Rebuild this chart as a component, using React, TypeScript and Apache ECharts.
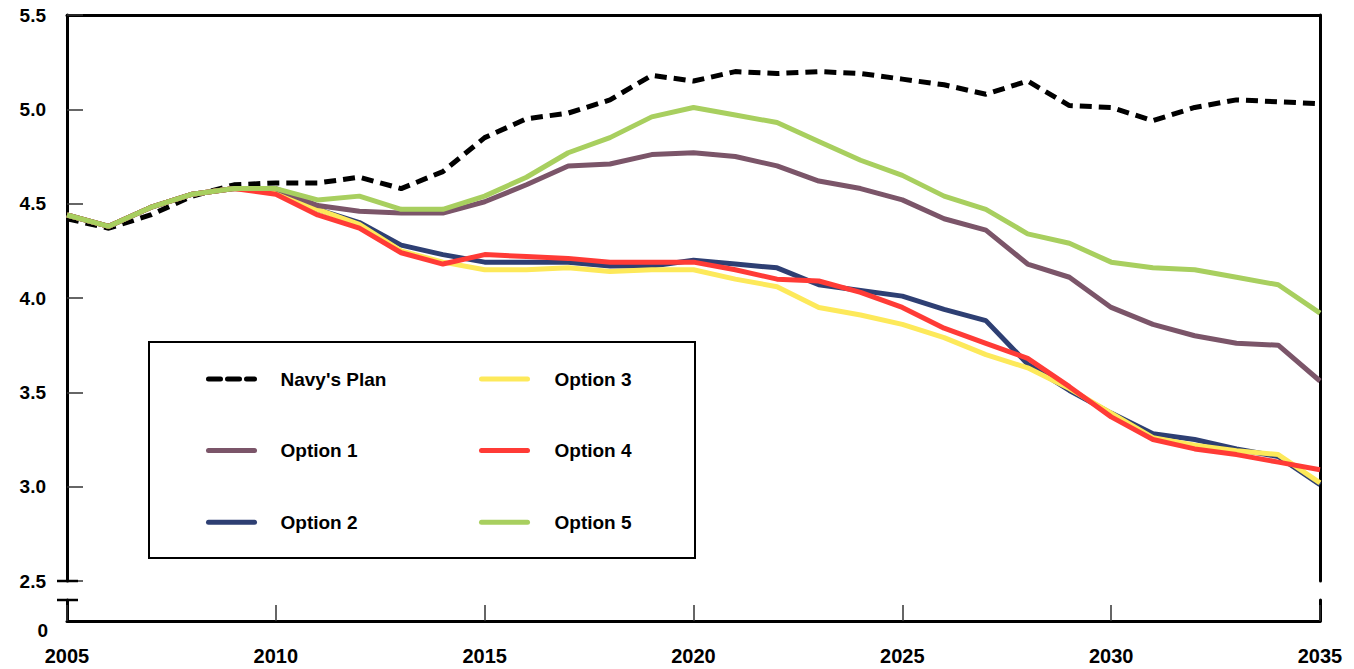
import React, { useEffect, useRef } from "react";
import * as echarts from "echarts";

const years = [2005,2006,2007,2008,2009,2010,2011,2012,2013,2014,2015,2016,2017,2018,2019,2020,2021,2022,2023,2024,2025,2026,2027,2028,2029,2030,2031,2032,2033,2034,2035];

const navyPlan = [4.42,4.37,4.44,4.54,4.60,4.61,4.61,4.64,4.58,4.67,4.85,4.95,4.98,5.05,5.18,5.15,5.20,5.19,5.20,5.19,5.16,5.13,5.08,5.15,5.02,5.01,4.94,5.01,5.05,5.04,5.03];
const option1 = [4.44,4.38,4.48,4.55,4.58,4.58,4.49,4.46,4.45,4.45,4.51,4.60,4.70,4.71,4.76,4.77,4.75,4.70,4.62,4.58,4.52,4.42,4.36,4.18,4.11,3.95,3.86,3.80,3.76,3.75,3.56];
const option2 = [4.44,4.38,4.48,4.55,4.58,4.57,4.47,4.40,4.28,4.23,4.19,4.19,4.19,4.17,4.17,4.20,4.18,4.16,4.07,4.04,4.01,3.94,3.88,3.65,3.51,3.39,3.28,3.25,3.20,3.16,3.01];
const option3 = [4.44,4.38,4.48,4.55,4.58,4.56,4.47,4.39,4.25,4.19,4.15,4.15,4.16,4.14,4.15,4.15,4.10,4.06,3.95,3.91,3.86,3.79,3.70,3.63,3.52,3.39,3.26,3.22,3.19,3.17,3.02];
const option4 = [4.44,4.38,4.48,4.55,4.58,4.55,4.44,4.37,4.24,4.18,4.23,4.22,4.21,4.19,4.19,4.19,4.15,4.10,4.09,4.03,3.95,3.84,3.76,3.68,3.53,3.37,3.25,3.20,3.17,3.13,3.09];
const option5 = [4.44,4.38,4.48,4.55,4.58,4.58,4.52,4.54,4.47,4.47,4.54,4.64,4.77,4.85,4.96,5.01,4.97,4.93,4.83,4.73,4.65,4.54,4.47,4.34,4.29,4.19,4.16,4.15,4.11,4.07,3.92];

const seriesNames = ["Navy's Plan", "Option 1", "Option 2", "Option 3", "Option 4", "Option 5"];
const legendCol1 = ["Navy's Plan", "Option 1", "Option 2"];
const legendCol2 = ["Option 3", "Option 4", "Option 5"];

const FONT = "'Liberation Sans', Arial, sans-serif";

const pairs = (vals: number[]) => years.map((y, i) => [y, vals[i]]);

export default function App() {
  const ref = useRef<HTMLDivElement>(null);
  useEffect(() => {
    if (!ref.current) return;
    const chart = echarts.init(ref.current, undefined, { renderer: "svg" });
    const L = 67, W = 1253, T = 15, H = 566;
    const line = (name: string, vals: number[], color: string, dash?: number[]) => ({
      name,
      type: "line",
      xAxisIndex: 0,
      yAxisIndex: 0,
      data: pairs(vals),
      symbol: "none",
      lineStyle: { color, width: 5, type: dash ? dash : "solid", cap: "butt" },
      itemStyle: { color },
    });
    const axisLineStyle = { color: "#000", width: 3 };
    const legendBase = {
      orient: "vertical",
      itemWidth: 46,
      itemHeight: 18,
      itemGap: 52.6,
      top: 364.5,
      selectedMode: false,
      itemStyle: { opacity: 0 },
      lineStyle: { width: 5, cap: "round" },
      textStyle: { fontFamily: FONT, fontSize: 19, fontWeight: "bold", color: "#000" },
    };
    chart.setOption({
      animation: false,
      backgroundColor: "#fff",
      grid: [
        { left: L, top: T, width: W, height: H },
        { left: L, top: 600, width: W, height: 21 },
      ],
      xAxis: [
        {
          gridIndex: 0, type: "value", min: 2005, max: 2035, interval: 5, position: "top",
          axisLine: { show: true, lineStyle: axisLineStyle },
          axisTick: { show: false }, axisLabel: { show: false }, splitLine: { show: false },
        },
        {
          gridIndex: 1, type: "value", min: 2005, max: 2035, interval: 5, position: "bottom",
          axisLine: { show: true, lineStyle: axisLineStyle },
          axisTick: { show: true, inside: true, length: 16, lineStyle: { color: "#333", width: 1.5 } },
          axisLabel: { fontFamily: FONT, fontSize: 20, fontWeight: "bold", color: "#000", margin: 25, formatter: (v: number) => String(v) },
          splitLine: { show: false },
        },
      ],
      yAxis: [
        {
          gridIndex: 0, type: "value", min: 2.5, max: 5.5, interval: 0.5,
          axisLine: { show: true, lineStyle: axisLineStyle },
          axisTick: { show: true, inside: true, length: 16, lineStyle: { color: "#333", width: 1.5 } },
          axisLabel: { fontFamily: FONT, fontSize: 19, fontWeight: "bold", color: "#000", margin: 21, formatter: (v: number) => v.toFixed(1) },
          splitLine: { show: false },
        },
        {
          gridIndex: 0, type: "value", min: 2.5, max: 5.5, interval: 0.5, position: "right",
          axisLine: { show: true, lineStyle: axisLineStyle },
          axisTick: { show: false }, axisLabel: { show: false }, splitLine: { show: false },
        },
        {
          gridIndex: 1, type: "value", min: 0, max: 1, interval: 1,
          axisLine: { show: true, lineStyle: axisLineStyle },
          axisTick: { show: false },
          axisLabel: { fontFamily: FONT, fontSize: 19, fontWeight: "bold", color: "#000", margin: 19, verticalAlign: "top", formatter: (v: number) => (v === 0 ? "0" : "") },
          splitLine: { show: false },
        },
        {
          gridIndex: 1, type: "value", min: 0, max: 1, interval: 1, position: "right",
          axisLine: { show: true, lineStyle: axisLineStyle },
          axisTick: { show: false }, axisLabel: { show: false }, splitLine: { show: false },
        },
      ],
      legend: [
        { ...legendBase, left: 201, data: legendCol1, textStyle: { ...legendBase.textStyle, padding: [0, 0, 0, 21] } },
        { ...legendBase, left: 474, data: legendCol2, textStyle: { ...legendBase.textStyle, padding: [0, 0, 0, 22] } },
      ],
      graphic: [
        { type: "rect", shape: { x: 149, y: 342, width: 546, height: 216 }, style: { fill: "none", stroke: "#000", lineWidth: 2 }, z: 10 },
        { type: "line", shape: { x1: 57, y1: 581, x2: 78, y2: 581 }, style: { stroke: "#000", lineWidth: 2.5 }, z: 10 },
        { type: "line", shape: { x1: 57, y1: 600, x2: 78, y2: 600 }, style: { stroke: "#000", lineWidth: 2.5 }, z: 10 },
      ],
      series: [
        line(seriesNames[0], navyPlan, "#000000", [12, 7]),
        line(seriesNames[2], option2, "#2E3F73"),
        line(seriesNames[3], option3, "#FDE95A"),
        line(seriesNames[4], option4, "#FF3B36"),
        line(seriesNames[1], option1, "#7B5569"),
        line(seriesNames[5], option5, "#A8CF5F"),
      ],
    });
    return () => chart.dispose();
  }, []);
  return <div ref={ref} style={{ position: "fixed", left: 0, top: 0, width: 1354, height: 669 }} />;
}
